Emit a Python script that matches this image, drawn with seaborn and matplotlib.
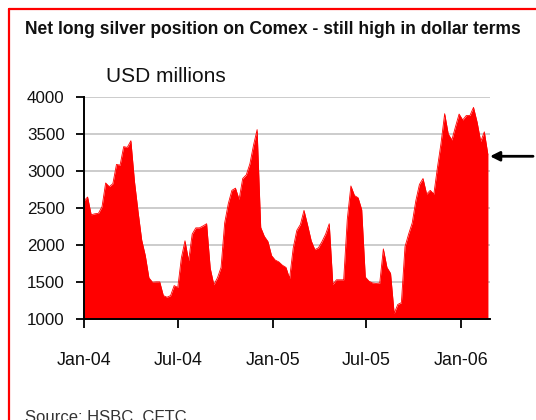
import numpy as np
import pandas as pd
import matplotlib
matplotlib.use("Agg")
import matplotlib.pyplot as plt
import matplotlib.dates as mdates
from matplotlib.lines import Line2D
import seaborn as sns

# ---- data (weekly, USD millions) ----
start_date = "2004-01-01"
values_2004a = [2600, 2650, 2410, 2424, 2430, 2520, 2840, 2790, 2830, 3090,
                3080, 3330, 3320, 3410, 2860, 2450, 2070, 1860, 1560, 1500,
                1505, 1505, 1320, 1298, 1320, 1455, 1430, 1830, 2060]
values_2004b = [1790, 2150, 2234, 2234, 2260, 2290, 1690, 1466, 1560, 1700,
                2300, 2560, 2740, 2770, 2618, 2900, 2950, 3100, 3350, 3560,
                2240, 2120, 2050, 1860, 1800, 1775, 1730, 1700]
values_2005a = [1550, 1960, 2200, 2280, 2470, 2270, 2060, 1940, 1965, 2050,
                2150, 2290, 1470, 1533, 1533, 1533, 2350, 2800, 2670, 2640,
                2480, 1570, 1515, 1490, 1484, 1490, 1950, 1700]
values_2005b = [1620, 1080, 1200, 1225, 1980, 2150, 2300, 2600, 2820, 2900,
                2690, 2740, 2690, 3050, 3380, 3775, 3500, 3420, 3600, 3770,
                3690, 3750, 3750, 3860, 3660, 3400, 3530, 3220]
values = values_2004a + values_2004b + values_2005a + values_2005b
dates = pd.date_range(start_date, periods=len(values), freq="7D")
y_ticks = [1000, 1500, 2000, 2500, 3000, 3500, 4000]
arrow_level = 3200

title = "Net long silver position on Comex - still high in dollar terms"
unit_label = "USD millions"
source = "Source: HSBC, CFTC"

df = pd.DataFrame({"date": dates, "value": values})

sns.set_theme(style="white")
plt.rcParams["font.family"] = ["Liberation Sans", "DejaVu Sans"]

fig = plt.figure(figsize=(5.36, 4.2), dpi=100)
renderer = fig.canvas.get_renderer()


def fit_size(text, width_px, weight="normal", base=14.0):
    t = fig.text(0, 0, text, fontsize=base, fontweight=weight)
    w = t.get_window_extent(renderer=renderer).width
    t.remove()
    return base * width_px / w


title_fs = fit_size(title, 497, weight="bold")
unit_fs = fit_size(unit_label, 120)
xlab_fs = fit_size("Jan-04", 55)
ylab_fs = fit_size("1000", 38)

ax = fig.add_axes([84 / 536, 1 - 319.3 / 420, (490 - 84) / 536, (319.3 - 97) / 420])

ax.fill_between(df["date"], 1000, df["value"], color="#ff0000", linewidth=0, zorder=2)
sns.lineplot(data=df, x="date", y="value", ax=ax, color="#ff0000", linewidth=0.6, zorder=3)

ax.set_ylim(1000, 4000)
ax.set_xlim(pd.Timestamp("2004-01-01"), pd.Timestamp("2006-02-27"))
ax.set_yticks(y_ticks)
ax.xaxis.set_major_locator(mdates.MonthLocator(bymonth=[1, 7]))
ax.xaxis.set_major_formatter(mdates.DateFormatter("%b-%y"))
ax.set_xlabel("")
ax.set_ylabel("")

ax.grid(axis="y", color="#c8c8c8", linewidth=1.3, zorder=0)
ax.grid(axis="x", visible=False)
ax.set_axisbelow(True)
for s in ["top", "right"]:
    ax.spines[s].set_visible(False)
for s in ["left", "bottom"]:
    ax.spines[s].set_color("black")
    ax.spines[s].set_linewidth(1.4)
    ax.spines[s].set_zorder(4)

ax.tick_params(axis="x", direction="out", length=6.5, width=1.3, color="black",
               pad=17, labelsize=xlab_fs, labelcolor="#111111", bottom=True)
ax.tick_params(axis="y", direction="out", length=6, width=1.3, color="black",
               pad=8, labelsize=ylab_fs, labelcolor="#111111", left=True)

# arrow pointing at latest level
ax.annotate("", xy=(1.0, arrow_level), xycoords=("axes fraction", "data"),
            xytext=(1.106, arrow_level), textcoords=("axes fraction", "data"),
            arrowprops=dict(arrowstyle="-|>", color="black", lw=2,
                            mutation_scale=14, shrinkA=0, shrinkB=0),
            annotation_clip=False)

fig.text(24.7 / 536, 1 - 34.4 / 420, title, fontsize=title_fs, fontweight="bold",
         ha="left", va="baseline", color="#111111")
fig.text(106.5 / 536, 1 - 82.5 / 420, unit_label, fontsize=unit_fs,
         ha="left", va="baseline", color="#111111")
fig.text(25 / 536, 1 - 410 / 420, source, fontsize=12,
         ha="left", va="top", color="#333333")

# red frame (left and top)
fig.add_artist(Line2D([9 / 536, 9 / 536], [0, 1 - 9 / 420], color="#ff0000",
                      lw=1.6, transform=fig.transFigure))
fig.add_artist(Line2D([9 / 536, 1], [1 - 9 / 420, 1 - 9 / 420], color="#ff0000",
                      lw=1.6, transform=fig.transFigure))

fig.savefig("out.png", dpi=100)
